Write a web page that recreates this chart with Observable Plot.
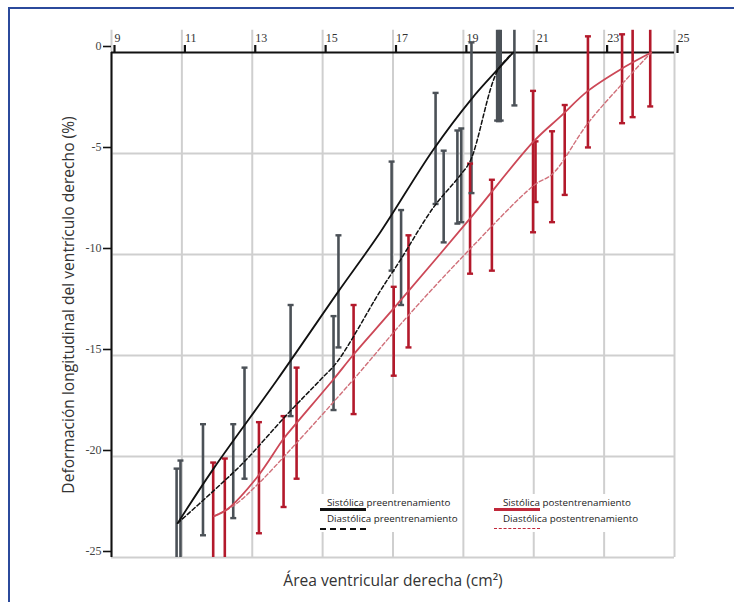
<!DOCTYPE html>
<html>
<head>
<meta charset="utf-8">
<script src="https://cdn.jsdelivr.net/npm/d3@7"></script>
<script src="https://cdn.jsdelivr.net/npm/@observablehq/plot@0.6"></script>
<style>
  html, body { margin: 0; padding: 0; background: #fff; }
  #wrap { position: relative; width: 734px; height: 602px; overflow: hidden; }
  #frame { position: absolute; left: 8px; top: 7px; width: 740px; height: 620px;
           border-top: 2.5px solid #2b4a9c; border-left: 2.5px solid #2b4a9c; }
  #chart { position: absolute; left: 0; top: 0; }
  .lg { position: absolute; font-family: "Open Sans", sans-serif; font-size: 9.8px; color: #222; white-space: nowrap; line-height: 1; }
  .box { position: absolute; background: #fff; }
  .ln { position: absolute; height: 0; }
</style>
</head>
<body>
<div id="wrap">
  <div id="frame"></div>
  <div id="chart"></div>
</div>
<script>
// ---- tick labels / grid ----
const xTicks = [9, 11, 13, 15, 17, 19, 21, 23, 25];
const yTicks = [0, -5, -10, -15, -20, -25];
const yGrid = [-5, -10, -15, -20, -25];

// ---- curves ----
const sysPreX = [10.88, 11.9, 13.71, 15.42, 16.64, 18.13, 19.24, 19.95, 20.42];
const sysPreY = [-23.3, -20.6, -16.2, -11.9, -8.9, -4.85, -2.28, -0.89, 0];

const diaPreX = [10.88, 11.9, 12.75, 14.0, 14.94, 15.42, 16.64, 17.2, 18.15, 18.9, 19.2, 19.97, 20.42];
const diaPreY = [-23.3, -21.7, -20.3, -17.9, -16.2, -15.3, -11.8, -10.3, -7.67, -6.1, -5.35, -0.9, 0];

const sysPostX = [11.92, 12.3, 13.15, 13.9, 14.28, 15.3, 15.88, 17.02, 19.15, 21.01, 21.74, 22.54, 23.54, 24.34];
const sysPostY = [-22.95, -22.6, -21.0, -19.1, -18.3, -16.2, -14.95, -12.67, -8.3, -4.38, -3.2, -1.9, -0.76, 0];

const diaPostX = [11.92, 12.5, 13.2, 14.17, 15.87, 17.42, 19.15, 21.01, 21.54, 22.54, 23.54, 24.34];
const diaPostY = [-22.95, -22.4, -21.3, -19.5, -16.2, -13.05, -9.8, -6.57, -6.0, -3.5, -1.5, 0];

// ---- error bars ----
const barPreX  = [10.85, 10.96, 11.6, 12.46, 12.78, 14.09, 15.31, 15.45, 16.96, 17.23, 18.21, 18.44, 18.83, 18.94, 19.23, 19.96, 20.01, 20.06, 20.45];
const barPreLo = [-25, -25, -23.9, -23.05, -21.1, -18.0, -17.7, -14.6, -10.8, -12.5, -7.5, -9.4, -8.47, -8.4, -6.96, -3.37, -3.4, -3.37, -2.62];
const barPreHi = [-20.6, -20.2, -18.4, -18.4, -15.6, -12.5, -13.05, -9.05, -5.4, -7.8, -2.0, -4.86, -3.86, -3.76, 0.5, 1.1, 1.1, 1.1, 1.1];

const barPostX  = [11.89, 12.22, 13.19, 13.89, 14.26, 15.88, 17.02, 17.44, 19.19, 19.81, 20.98, 21.05, 21.52, 21.88, 22.54, 23.51, 23.81, 24.31];
const barPostLo = [-25, -25, -23.8, -22.5, -21.1, -17.9, -16.0, -14.6, -10.95, -10.8, -8.9, -7.4, -8.4, -7.05, -4.7, -3.5, -3.2, -2.67];
const barPostHi = [-20.3, -20.1, -18.3, -18.0, -15.6, -12.5, -11.6, -9.05, -5.5, -6.3, -1.9, -4.4, -3.9, -2.6, 0.8, 0.9, 1.1, 1.1];

const xLabel = "Área ventricular derecha (cm²)";
const yLabel = "Deformación longitudinal del ventrículo derecho (%)";
const legendItems = [
  ["Sistólica", " preentrenamiento"],
  ["Diastólica", " preentrenamiento"],
  ["Sistólica", " postentrenamiento"],
  ["Diastólica", " postentrenamiento"]
];

// ---- build tables ----
const zipXY = (xs, ys) => xs.map((x, i) => ({x, y: ys[i]}));
const sysPre = zipXY(sysPreX, sysPreY);
const diaPre = zipXY(diaPreX, diaPreY);
const sysPost = zipXY(sysPostX, sysPostY);
const diaPost = zipXY(diaPostX, diaPostY);

const GRAY = "#4b5157", RED = "#b3192b";
const bars = [
  ...barPreX.map((x, i) => ({x, lo: barPreLo[i], hi: barPreHi[i], c: GRAY})),
  ...barPostX.map((x, i) => ({x, lo: barPostLo[i], hi: barPostHi[i], c: RED}))
];
const caps = [];
for (const b of bars) {
  if (b.lo > -25) caps.push({x: b.x, y: b.lo, c: b.c});
  if (b.hi < 1.0) caps.push({x: b.x, y: b.hi, c: b.c});
}
const capSymbol = { draw(ctx) { ctx.moveTo(-3, 0); ctx.lineTo(3, 0); } };

const serif = "'Liberation Serif', 'Times New Roman', serif";
const sans = "'Open Sans', sans-serif";

const chart = Plot.plot({
  width: 734, height: 602,
  marginLeft: 111, marginRight: 60, marginTop: 52, marginBottom: 45,
  x: {domain: [9, 25], axis: null},
  y: {domain: [-25, 0], axis: null},
  style: {background: "transparent", overflow: "visible"},
  marks: [
    Plot.ruleX(xTicks, {y1: 1.1, y2: -25, stroke: "#cfcfcf", strokeWidth: 2}),
    Plot.ruleY(yGrid, {x1: 9, x2: 25, stroke: "#cfcfcf", strokeWidth: 2}),
    Plot.ruleY([0], {x1: 9, x2: 25, stroke: "#111", strokeWidth: 2}),
    Plot.ruleX([9], {y1: 0, y2: -25, stroke: "#111", strokeWidth: 2}),
    Plot.axisX(xTicks, {anchor: "top", tickSize: 8, tickPadding: 3, strokeWidth: 2.2, stroke: "#111",
      textAnchor: "start", dx: 3, fontFamily: serif, fontSize: 12, fill: "#333", label: null,
      tickFormat: d => String(d)}),
    Plot.axisY(yTicks, {anchor: "left", tickSize: 8, tickPadding: 2, strokeWidth: 1.6, stroke: "#111",
      dy: -6, fontFamily: serif, fontSize: 12, fill: "#444", label: null,
      tickFormat: d => String(d)}),
    // error bars
    Plot.ruleX(bars, {x: "x", y1: "lo", y2: "hi", stroke: "c", strokeWidth: 2.6}),
    Plot.dot(caps, {x: "x", y: "y", stroke: "c", fill: "none", strokeWidth: 2.4, symbol: capSymbol}),
    // curves
    Plot.line(diaPost, {x: "x", y: "y", stroke: "#d0707a", strokeWidth: 1.4, strokeDasharray: "4,2.5", curve: "catmull-rom"}),
    Plot.line(sysPost, {x: "x", y: "y", stroke: "#cc4857", strokeWidth: 1.8, curve: "catmull-rom"}),
    Plot.line(diaPre, {x: "x", y: "y", stroke: "#111", strokeWidth: 1.5, strokeDasharray: "4,2.5", curve: "catmull-rom"}),
    Plot.line(sysPre, {x: "x", y: "y", stroke: "#111", strokeWidth: 1.8, curve: "catmull-rom"}),
    // axis titles
    Plot.text([yLabel], {frameAnchor: "left", dx: -43, rotate: -90, textAnchor: "middle", lineAnchor: "middle",
      fontFamily: sans, fontSize: 15.6, fill: "#333"}),
    Plot.text([xLabel], {frameAnchor: "bottom", dy: 23, fontFamily: sans, fontSize: 15.6, fill: "#333", lineAnchor: "middle"})
  ]
});
document.getElementById("chart").appendChild(chart);

// ---- legend (HTML overlay) ----
const wrap = document.getElementById("wrap");
function add(el) { wrap.appendChild(el); return el; }
function box(l, t, w, h) { const d = document.createElement("div"); d.className = "box";
  Object.assign(d.style, {left: l + "px", top: t + "px", width: w + "px", height: h + "px"}); return add(d); }
function line(l, t, w, style, color, width) { const d = document.createElement("div"); d.className = "ln";
  Object.assign(d.style, {left: l + "px", top: t + "px", width: w + "px", borderTop: `${width}px ${style} ${color}`}); return add(d); }
function label(l, t, parts) { const d = document.createElement("div"); d.className = "lg";
  d.style.left = l + "px"; d.style.top = t + "px"; d.textContent = parts[0] + parts[1]; return add(d); }

box(316, 494, 143, 38);
box(468, 494, 182, 38);
const legendPos = [[327, 498, 320, 508, "solid", "#111", 3], [327, 514, 320, 528, "dashed", "#111", 2],
                   [503, 498, 494, 508, "solid", "#c0283a", 3], [503, 514, 494, 528, "dashed", "#c0283a", 1.6]];
legendItems.forEach((it, i) => {
  const p = legendPos[i];
  label(p[0], p[1], it);
  line(p[2], p[3], 46, p[4], p[5], p[6]);
});
</script>
</body>
</html>
